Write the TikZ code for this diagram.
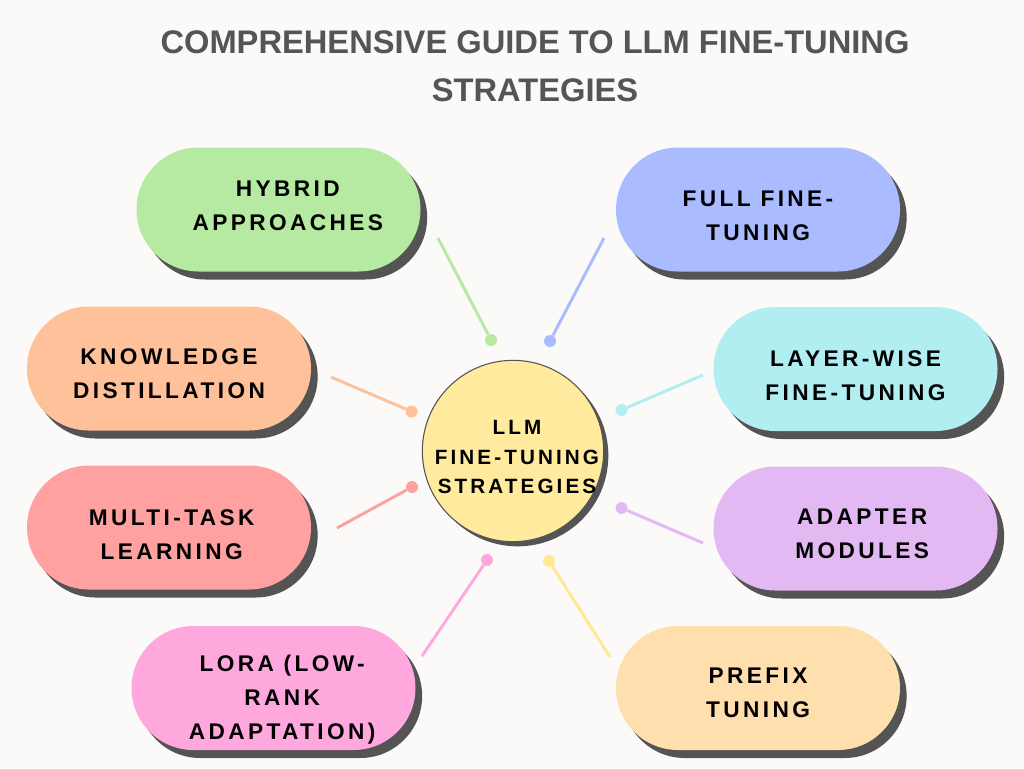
\documentclass[tikz,border=0pt]{standalone}
\usepackage{fontspec}
\usepackage{xcolor}
\usetikzlibrary{shapes.misc}
\usetikzlibrary{shadows}
\newfontfamily\pillfont{Liberation Sans}[LetterSpace=15]
\newfontfamily\titlefont{Liberation Sans}
\definecolor{paper}{HTML}{FBFAF8}
\definecolor{shade}{HTML}{545454}
\definecolor{titlegray}{HTML}{555555}
\definecolor{hybridc}{HTML}{B6E9A1}
\definecolor{fullc}{HTML}{AABBFF}
\definecolor{distillc}{HTML}{FFC199}
\definecolor{layerc}{HTML}{B1EEF1}
\definecolor{multic}{HTML}{FFA1A1}
\definecolor{adapterc}{HTML}{E3B9F4}
\definecolor{lorac}{HTML}{FFA8DE}
\definecolor{prefixc}{HTML}{FFDFAE}
\definecolor{hubc}{HTML}{FFEA9E}
\definecolor{hublink}{HTML}{FFE896}
\tikzset{pill/.style = {rounded rectangle, minimum width=213pt, minimum height=93pt,
    inner sep=0pt, align=center, text=black,
    font=\pillfont\bfseries\fontsize{17}{25.5}\selectfont,
    drop shadow={shadow xshift=5pt, shadow yshift=-6pt, fill=shade, opacity=1}}}
\tikzset{knob/.style = {circle, inner sep=0, minimum size=9pt}}
\tikzset{link/.style = {line width=2.2pt}}
\tikzset{every picture/.style={x=0.75pt, y=-0.75pt}}
% push the text of a pill down (\pad), up (\padb) or right (\padr)
\newcommand{\pad}[1]{\rule{0pt}{\dimexpr 12.2pt+#1\relax}}
\newcommand{\padb}[1]{\rule[-#1]{0pt}{0pt}}
\newcommand{\padr}[1]{\hspace*{#1}}

\begin{document}
\begin{tikzpicture}
  \fill[paper] (0,0) rectangle (1024,768);
  \useasboundingbox (0,0) rectangle (1024,768);
  % title
  \node[align=center, text=titlegray, font=\titlefont\bfseries\fontsize{24.5}{36}\selectfont]
    (title) at (535,66) {COMPREHENSIVE GUIDE TO LLM FINE-TUNING\\STRATEGIES};
  % strategies
  \node[pill, fill=hybridc] (hybrid) at (278.5,209.5)
    {\padr{14pt}HYBRID\\\padr{14pt}APPROACHES\padb{5pt}};
  \node[pill, fill=fullc] (full) at (758,209.5) {\pad{9pt}FULL FINE-\\TUNING};
  \node[pill, fill=distillc] (distill) at (169,368.5) {\pad{7.5pt}KNOWLEDGE\\DISTILLATION};
  \node[pill, fill=layerc] (layer) at (855.5,369) {\pad{9pt}LAYER-WISE\\FINE-TUNING};
  \node[pill, fill=multic] (multi) at (169,527.5)
    {\pad{11pt}\padr{4pt}MULTI-TASK\\\padr{4pt}LEARNING};
  \node[pill, fill=adapterc] (adapter) at (855.5,528.5)
    {\pad{7pt}\padr{10pt}ADAPTER\\\padr{10pt}MODULES};
  \node[pill, fill=lorac] (lora) at (273.5,688)
    {\pad{18pt}\padr{13pt}LORA (LOW-\\\padr{13pt}RANK\\\padr{13pt}ADAPTATION)};
  \node[pill, fill=prefixc] (prefix) at (758,688) {\pad{6pt}PREFIX\\TUNING};
  % centre
  \node[circle, minimum size=136pt, inner sep=0, fill=hubc, draw=shade, line width=0.8pt,
    drop shadow={shadow xshift=3.5pt, shadow yshift=-3.5pt, fill=shade, opacity=1}]
    (hub) at (513,451) {};
  \node[align=center, font=\pillfont\bfseries\fontsize{15.5}{22}\selectfont]
    (hubtext) at (517,457) {LLM\\FINE-TUNING\\STRATEGIES};
  % connectors
  \node[knob, fill=hybridc] (hybriddot) at (491,340) {};
  \node[knob, fill=fullc] (fulldot) at (550,341) {};
  \node[knob, fill=distillc] (distilldot) at (411.5,411.5) {};
  \node[knob, fill=layerc] (layerdot) at (621.5,410) {};
  \node[knob, fill=multic] (multidot) at (412,487) {};
  \node[knob, fill=adapterc] (adapterdot) at (621.5,508) {};
  \node[knob, fill=lorac] (loradot) at (487,560) {};
  \node[knob, fill=hublink] (prefixdot) at (549,561) {};
  \coordinate (hybridend) at (438,238);
  \coordinate (fullend) at (604,238);
  \coordinate (distillend) at (331,377);
  \coordinate (layerend) at (703,375);
  \coordinate (multiend) at (337,528);
  \coordinate (adapterend) at (703,543);
  \coordinate (loraend) at (422,656);
  \coordinate (prefixend) at (610,657);
  \draw[link, hybridc] (hybridend) -- (hybriddot);
  \draw[link, fullc] (fullend) -- (fulldot);
  \draw[link, distillc] (distillend) -- (distilldot);
  \draw[link, layerc] (layerend) -- (layerdot);
  \draw[link, multic] (multiend) -- (multidot);
  \draw[link, adapterc] (adapterend) -- (adapterdot);
  \draw[link, lorac] (loraend) -- (loradot);
  \draw[link, hublink] (prefixend) -- (prefixdot);
\end{tikzpicture}
\end{document}
